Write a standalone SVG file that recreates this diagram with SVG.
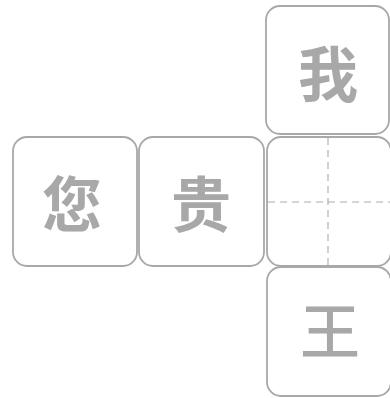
<svg xmlns="http://www.w3.org/2000/svg" width="390" height="398" viewBox="0 0 390 398">
<style>
.box{fill:#fff;stroke:#a8a8a8;stroke-width:1.8}
.dash{stroke:#ababab;stroke-width:1.1;stroke-dasharray:7 5;fill:none}
.ch{font-family:"Noto Sans CJK SC","Noto Sans CJK JP",sans-serif;font-size:60px;font-weight:700;fill:#a8a8a8;text-anchor:middle;dominant-baseline:central}
</style>
<rect width="390" height="398" fill="#fff"/>
<g id="node-wo"><rect class="box" x="266" y="6" width="123" height="128" rx="14"/><text class="ch" x="328" y="70">我</text></g>
<g id="node-nin"><rect class="box" x="13" y="137" width="124" height="129" rx="14"/><text class="ch" x="72" y="200">您</text></g>
<g id="node-gui"><rect class="box" x="139" y="137" width="125" height="129" rx="14"/><text class="ch" x="201" y="200">贵</text></g>
<g id="node-blank"><rect class="box" x="267" y="137" width="124" height="129" rx="14"/>
<line class="dash" x1="328" y1="138" x2="328" y2="265"/><line class="dash" x1="268" y1="202" x2="390" y2="202"/></g>
<g id="node-wang"><rect class="box" x="267" y="267" width="124" height="129" rx="14"/><text class="ch" x="330" y="327" style="font-weight:500">王</text></g>
<g id="connectors"></g>
</svg>
